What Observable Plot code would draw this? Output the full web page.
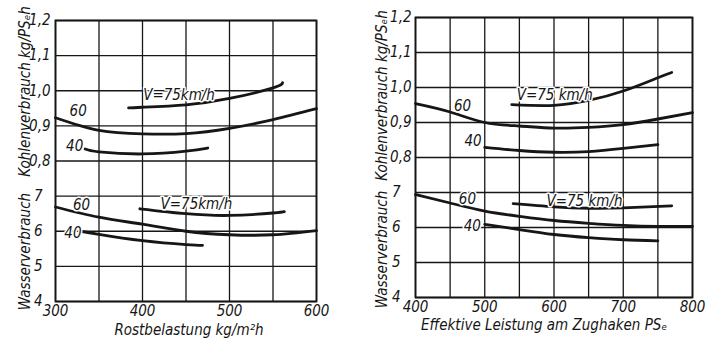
<!DOCTYPE html>
<html><head><meta charset="utf-8">
<script src="https://cdn.jsdelivr.net/npm/d3@7"></script>
<script src="https://cdn.jsdelivr.net/npm/@observablehq/plot@0.6"></script>
<style>
body{margin:0;background:#fff;}
#wrap{display:flex;width:716px;height:342px;overflow:hidden;}
</style></head><body><div id="wrap"></div>
<script>
// Shared y tick labels (lower half: water, upper half: coal)
const yTickLabels = ["4","5","6","7","0,8","0,9","1,0","1,1","1,2"];

// ---- Left panel: Rostbelastung kg/m²h ----
const leftXTicks = [300, 400, 500, 600];
const coalL75x = [384, 400, 450, 500, 550, 561];
const coalL75y = [0.951, 0.953, 0.960, 0.978, 1.008, 1.023];
const coalL60x = [300, 350, 400, 450, 500, 550, 600];
const coalL60y = [0.923, 0.887, 0.877, 0.878, 0.893, 0.918, 0.949];
const coalL40x = [334, 350, 400, 450, 475];
const coalL40y = [0.834, 0.826, 0.820, 0.828, 0.837];
const waterL75x = [397, 450, 500, 550, 563];
const waterL75y = [6.64, 6.50, 6.45, 6.52, 6.56];
const waterL60x = [300, 350, 400, 450, 500, 550, 600];
const waterL60y = [6.69, 6.40, 6.20, 6.00, 5.90, 5.90, 6.02];
const waterL40x = [329, 350, 400, 450, 469];
const waterL40y = [6.00, 5.91, 5.73, 5.62, 5.60];

// ---- Right panel: Effektive Leistung am Zughaken PSe ----
const rightXTicks = [400, 500, 600, 700, 800];
const coalR75x = [539, 600, 650, 700, 750, 770];
const coalR75y = [0.951, 0.949, 0.963, 0.990, 1.028, 1.043];
const coalR60x = [400, 450, 500, 550, 600, 650, 700, 750, 800];
const coalR60y = [0.954, 0.930, 0.900, 0.890, 0.884, 0.886, 0.894, 0.910, 0.928];
const coalR40x = [500, 550, 600, 650, 700, 750];
const coalR40y = [0.829, 0.820, 0.815, 0.817, 0.826, 0.837];
const waterR75x = [541, 600, 650, 700, 770];
const waterR75y = [6.68, 6.59, 6.55, 6.56, 6.62];
const waterR60x = [400, 450, 500, 550, 600, 650, 700, 750, 800];
const waterR60y = [6.94, 6.70, 6.47, 6.32, 6.20, 6.12, 6.06, 6.03, 6.03];
const waterR40x = [500, 550, 600, 650, 700, 750];
const waterR40y = [6.09, 5.94, 5.80, 5.71, 5.65, 5.62];

// Curve labels (text, x value, value, kind)
const leftLabelText = ["V=75km/h", "60", "40", "60", "V=75km/h", "40"];
const leftLabelX    = [442, 326, 322, 330, 462, 320];
const leftLabelV    = [0.986, 0.943, 0.843, 6.74, 6.77, 5.94];
const leftLabelKind = ["c", "c", "c", "w", "w", "w"];
const rightLabelText = ["V=75 km/h", "60", "40", "60", "V=75 km/h", "40"];
const rightLabelX    = [601, 468, 483, 475, 644, 482];
const rightLabelV    = [0.977, 0.946, 0.846, 6.80, 6.74, 6.03];
const rightLabelKind = ["c", "c", "c", "w", "w", "w"];

const FONT = '"Liberation Sans Narrow","DejaVu Sans Condensed","Liberation Sans",sans-serif';
const INK = "#161616";

const coalPos = c => 4 + (c - 0.8) * 10;
const waterPos = w => w - 4;
const series = (xs, ys, f) => xs.map((x, i) => ({x, y: f(ys[i])}));
const labels = (t, xs, vs, k) => t.map((s, i) => ({t: s, x: xs[i], y: k[i] === "c" ? coalPos(vs[i]) : waterPos(vs[i])}));

function panel(o) {
  const lines = o.series.map(s => Plot.line(s, {x: "x", y: "y", stroke: INK, strokeWidth: 2.8, curve: "natural"}));
  return Plot.plot({
    width: 358, height: 342,
    marginLeft: o.ml, marginRight: o.mr, marginTop: o.mt, marginBottom: o.mb,
    style: {fontFamily: FONT, fontSize: "15px", fontStyle: "italic", background: "white", color: INK},
    x: {domain: o.xDomain, label: null},
    y: {domain: [0, 8], label: null},
    marks: [
      Plot.gridX({ticks: d3.range(o.xDomain[0], o.xDomain[1] + 1, 50), stroke: INK, strokeOpacity: 1, strokeWidth: 1.3}),
      Plot.gridY({ticks: d3.range(0, 9), stroke: INK, strokeOpacity: 1, strokeWidth: 1.3}),
      Plot.frame({stroke: INK, strokeWidth: 1.8}),
      Plot.axisX({ticks: o.xTicks, tickSize: 0, tickPadding: 4, fontSize: 15, label: null}),
      Plot.axisY({ticks: [0, 1, 2, 3], tickSize: 0, tickPadding: o.wPad, tickFormat: d => yTickLabels[d], fontSize: 15, label: null}),
      Plot.axisY({ticks: [4, 5, 6, 7, 8], tickSize: 0, tickPadding: o.cPad, tickFormat: d => yTickLabels[d], fontSize: 15, label: null}),
      ...lines,
      Plot.text(o.labels, {x: "x", y: "y", text: "t", fontSize: 15, stroke: "white", strokeWidth: 3, fill: INK}),
      Plot.text([o.xLabel], {text: d => d, frameAnchor: "bottom", textAnchor: "middle", dy: o.xLabelDy, dx: o.xLabelDx, fontSize: 15}),
      Plot.text(["Wasserverbrauch"], {text: d => d, y: [o.wLabelY], frameAnchor: "left", textAnchor: "middle", dx: o.yLabelDx, rotate: -90, fontSize: 15}),
      Plot.text(["Kohlenverbrauch kg/PSₑh"], {text: d => d, y: [o.cLabelY], frameAnchor: "left", textAnchor: "middle", dx: o.yLabelDx, rotate: -90, fontSize: 15})
    ]
  });
}

const left = panel({
  ml: 55, mr: 42, mt: 20, mb: 41,
  xDomain: [300, 600], xTicks: leftXTicks,
  wPad: 13, cPad: 5,
  series: [
    series(coalL75x, coalL75y, coalPos), series(coalL60x, coalL60y, coalPos), series(coalL40x, coalL40y, coalPos),
    series(waterL75x, waterL75y, waterPos), series(waterL60x, waterL60y, waterPos), series(waterL40x, waterL40y, waterPos)
  ],
  labels: labels(leftLabelText, leftLabelX, leftLabelV, leftLabelKind),
  xLabel: "Rostbelastung kg/m²h", xLabelDy: 33, xLabelDx: 3,
  wLabelY: 1.42, cLabelY: 5.98, yLabelDx: -30
});
const right = panel({
  ml: 57, mr: 24, mt: 17, mb: 45,
  xDomain: [400, 800], xTicks: rightXTicks,
  wPad: 15, cPad: 4,
  series: [
    series(coalR75x, coalR75y, coalPos), series(coalR60x, coalR60y, coalPos), series(coalR40x, coalR40y, coalPos),
    series(waterR75x, waterR75y, waterPos), series(waterR60x, waterR60y, waterPos), series(waterR40x, waterR40y, waterPos)
  ],
  labels: labels(rightLabelText, rightLabelX, rightLabelV, rightLabelKind),
  xLabel: "Effektive Leistung am Zughaken PSₑ", xLabelDy: 32, xLabelDx: -10,
  wLabelY: 1.37, cLabelY: 5.77, yLabelDx: -33
});
document.getElementById("wrap").append(left, right);
</script>
</body></html>
